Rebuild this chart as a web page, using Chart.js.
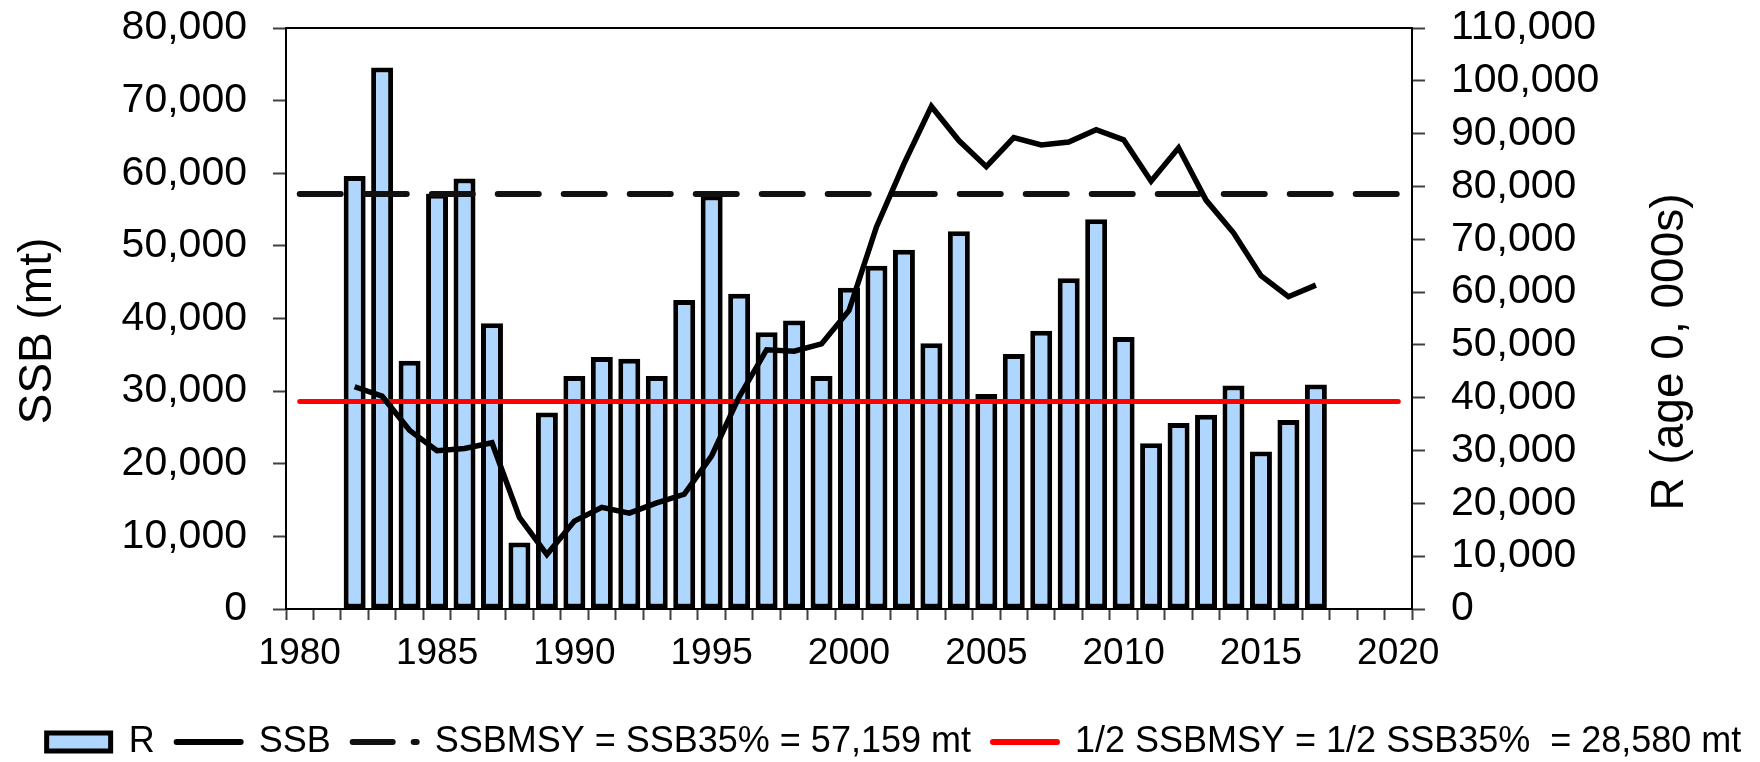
<!DOCTYPE html>
<html>
<head>
<meta charset="utf-8">
<script src="https://cdn.jsdelivr.net/npm/chart.js@4"></script>
<style>
  html, body { margin: 0; padding: 0; background: #fff; overflow: hidden; }
</style>
</head>
<body>
<canvas id="myChart" width="1760" height="762"></canvas>
<script>
// categories (one per year, ticks between years, label every 5th)
const years = ['1980','1981','1982','1983','1984','1985','1986','1987','1988','1989',
  '1990','1991','1992','1993','1994','1995','1996','1997','1998','1999',
  '2000','2001','2002','2003','2004','2005','2006','2007','2008','2009',
  '2010','2011','2012','2013','2014','2015','2016','2017','2018','2019','2020'];

// recruitment, age 0 (000s) - right axis
const recruits = [null, null, 82000, 102500, 47000, 78600, 81500, 54100, 12600, 37200,
  44100, 47700, 47400, 44100, 58500, 78300, 59700, 52400, 54600, 44100,
  60800, 65000, 68000, 50300, 71500, 40700, 48300, 52700, 62600, 73800,
  51500, 31400, 35200, 36800, 42300, 29800, 35800, 42500, null, null, null];

// spawning stock biomass (mt) - left axis
const ssb = [null, null, 30600, 29300, 24600, 21800, 22100, 22900, 12600, 7500,
  12100, 14000, 13200, 14600, 15800, 21100, 29200, 35700, 35500, 36500,
  41100, 52600, 61300, 69200, 64500, 60900, 64900, 63900, 64300, 66000,
  64600, 58900, 63500, 56300, 51800, 45900, 43000, 44600, null, null, null];

// reference points
const ssbMsy = 57159;
const halfSsbMsy = 28580;
const ssbMsyLine = years.map(() => ssbMsy);
const halfSsbMsyLine = years.map(() => halfSsbMsy);

const leftTicks = [0, 10000, 20000, 30000, 40000, 50000, 60000, 70000, 80000];
const rightTicks = [0, 10000, 20000, 30000, 40000, 50000, 60000, 70000, 80000, 90000, 100000, 110000];

const FONT = '"Liberation Sans", Arial, Helvetica, sans-serif';
const BAR_FILL = '#afd6ff';

const extras = {
  id: 'extras',
  afterLayout(chart) {
    const lg = chart.legend;
    if (lg) {
      lg.top += 8; lg.bottom += 8;
      lg.left += 14; lg.right += 14;
    }
  },
  afterDraw(chart) {
    const { ctx, chartArea: a } = chart;
    ctx.save();
    // top edge of the plot frame
    ctx.strokeStyle = '#000';
    ctx.lineWidth = 2;
    ctx.beginPath();
    ctx.moveTo(a.left, a.top);
    ctx.lineTo(a.right, a.top);
    ctx.stroke();
    // axis titles, both read bottom to top
    ctx.fillStyle = '#000';
    ctx.font = '46px ' + FONT;
    ctx.textAlign = 'center';
    ctx.textBaseline = 'middle';
    ctx.translate(38, 331);
    ctx.rotate(-Math.PI / 2);
    ctx.fillText('SSB (mt)', 0, 0);
    ctx.restore();
    ctx.save();
    ctx.fillStyle = '#000';
    ctx.font = '46px ' + FONT;
    ctx.textAlign = 'center';
    ctx.textBaseline = 'middle';
    ctx.translate(1670, 352);
    ctx.rotate(-Math.PI / 2);
    ctx.fillText('R (age 0, 000s)', 0, 0);
    ctx.restore();
  }
};

const fitY = (width) => (s) => {
  s.width = width;
  s.paddingTop = 0;
  s.paddingBottom = 0;
};

const ctx = document.getElementById('myChart').getContext('2d');
const myChart = new Chart(ctx, {
  type: 'bar',
  data: {
    labels: years,
    datasets: [
      {
        type: 'bar',
        label: 'R',
        data: recruits,
        yAxisID: 'y1',
        backgroundColor: BAR_FILL,
        borderColor: '#000',
        borderWidth: 5,
        borderSkipped: false,
        barPercentage: 0.8,
        categoryPercentage: 1,
        order: 4
      },
      {
        type: 'line',
        label: 'SSB',
        data: ssb,
        yAxisID: 'y',
        borderColor: '#000',
        borderWidth: 5.5,
        pointRadius: 0,
        tension: 0,
        order: 1
      },
      {
        type: 'line',
        label: 'SSBMSY = SSB35% = 57,159 mt',
        data: ssbMsyLine,
        yAxisID: 'y',
        borderColor: '#111',
        borderWidth: 6,
        borderDash: [41, 25],
        borderCapStyle: 'round',
        pointRadius: 0,
        order: 2
      },
      {
        type: 'line',
        label: '1/2 SSBMSY = 1/2 SSB35%  = 28,580 mt',
        data: halfSsbMsyLine,
        yAxisID: 'y',
        borderColor: '#ff0000',
        borderWidth: 5,
        borderCapStyle: 'round',
        pointRadius: 0,
        order: 3
      }
    ]
  },
  options: {
    responsive: false,
    animation: false,
    devicePixelRatio: 1,
    events: [],
    layout: { padding: { top: 28, left: 0, right: 0, bottom: 0 } },
    scales: {
      x: {
        type: 'category',
        offset: true,
        grid: { offset: true, drawOnChartArea: false, tickLength: 11, tickWidth: 2, tickColor: '#404040' },
        border: { display: true, color: '#000', width: 2 },
        ticks: {
          autoSkip: false, maxRotation: 0, minRotation: 0, padding: 12,
          color: '#000', font: { family: FONT, size: 37 },
          callback: function (v) {
            const lab = this.getLabelForValue(v);
            return Number(lab) % 5 === 0 ? lab : '';
          }
        },
        afterFit: (s) => { s.height = 85; }
      },
      y: {
        position: 'left',
        min: 0, max: 80000,
        afterBuildTicks: (s) => { s.ticks = leftTicks.map(v => ({ value: v })); },
        grid: { drawOnChartArea: false, tickLength: 13, tickWidth: 2, tickColor: '#404040' },
        border: { display: true, color: '#000', width: 2 },
        ticks: {
          autoSkip: false, padding: 26, color: '#000', font: { family: FONT, size: 41 },
          callback: (v) => v.toLocaleString('en-US')
        },
        afterFit: fitY(286)
      },
      y1: {
        position: 'right',
        min: 0, max: 110000,
        afterBuildTicks: (s) => { s.ticks = rightTicks.map(v => ({ value: v })); },
        grid: { drawOnChartArea: false, tickLength: 13, tickWidth: 2, tickColor: '#404040' },
        border: { display: true, color: '#000', width: 2 },
        ticks: {
          autoSkip: false, padding: 26, color: '#000', font: { family: FONT, size: 41 },
          callback: (v) => v.toLocaleString('en-US')
        },
        afterFit: fitY(348)
      }
    },
    plugins: {
      tooltip: { enabled: false },
      legend: {
        position: 'bottom',
        labels: {
          usePointStyle: true,
          pointStyleWidth: 64,
          boxHeight: 18,
          padding: 22,
          color: '#000',
          font: { family: FONT, size: 36 },
          generateLabels: (chart) => {
            const ds = chart.data.datasets;
            return [
              { text: ds[0].label, datasetIndex: 0, hidden: false, fontColor: '#000',
                pointStyle: 'rect', fillStyle: BAR_FILL, strokeStyle: '#000', lineWidth: 5 },
              { text: ds[1].label, datasetIndex: 1, hidden: false, fontColor: '#000',
                pointStyle: 'line', strokeStyle: '#000', lineWidth: 6, lineCap: 'round' },
              { text: ds[2].label, datasetIndex: 2, hidden: false, fontColor: '#000',
                pointStyle: 'line', strokeStyle: '#111', lineWidth: 6, lineCap: 'round',
                lineDash: [40, 21], lineDashOffset: 0 },
              { text: ds[3].label, datasetIndex: 3, hidden: false, fontColor: '#000',
                pointStyle: 'line', strokeStyle: '#ff0000', lineWidth: 6, lineCap: 'round' }
            ];
          }
        }
      }
    }
  },
  plugins: [extras]
});
</script>
</body>
</html>
